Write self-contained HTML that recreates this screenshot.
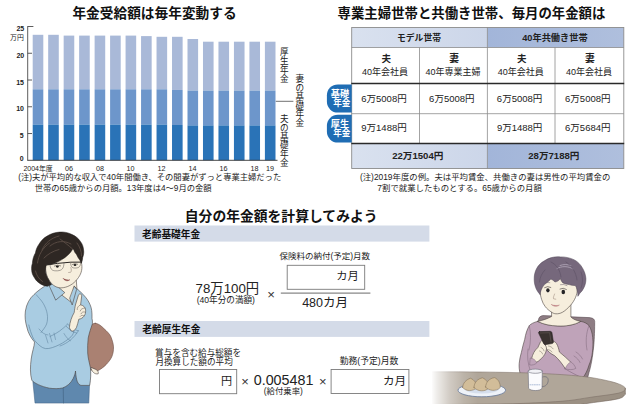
<!DOCTYPE html>
<html lang="ja">
<head>
<meta charset="utf-8">
<title>年金受給額は毎年変動する</title>
<style>
html,body{margin:0;padding:0;background:#fff}
body{width:630px;height:408px;overflow:hidden;position:relative;font-family:"Liberation Sans",sans-serif}
#fig{position:absolute;left:0;top:0;width:630px;height:408px;display:block}
#fig text{font-family:"Liberation Sans","Noto Sans CJK JP",sans-serif}
#txt{position:absolute;left:0;top:0;width:630px;height:408px;overflow:hidden}
#txt span{position:absolute;white-space:nowrap;line-height:1;color:transparent;font-family:"Liberation Sans",sans-serif}
#txt span.v{writing-mode:vertical-rl}
</style>
</head>
<body>
<svg id="fig" width="630" height="408" viewBox="0 0 630 408" aria-hidden="true"><rect x="32.70" y="34.80" width="10.60" height="54.50" fill="#a9b9d8" /><rect x="32.70" y="89.30" width="10.60" height="35.30" fill="#6d96cb" /><rect x="32.70" y="124.60" width="10.60" height="35.70" fill="#2a73b7" /><rect x="48.18" y="34.80" width="10.60" height="54.50" fill="#a9b9d8" /><rect x="48.18" y="89.30" width="10.60" height="35.30" fill="#6d96cb" /><rect x="48.18" y="124.60" width="10.60" height="35.70" fill="#2a73b7" /><rect x="63.66" y="35.60" width="10.60" height="53.70" fill="#a9b9d8" /><rect x="63.66" y="89.30" width="10.60" height="35.30" fill="#6d96cb" /><rect x="63.66" y="124.60" width="10.60" height="35.70" fill="#2a73b7" /><rect x="79.14" y="35.60" width="10.60" height="53.70" fill="#a9b9d8" /><rect x="79.14" y="89.30" width="10.60" height="35.30" fill="#6d96cb" /><rect x="79.14" y="124.60" width="10.60" height="35.70" fill="#2a73b7" /><rect x="94.62" y="35.60" width="10.60" height="53.70" fill="#a9b9d8" /><rect x="94.62" y="89.30" width="10.60" height="35.30" fill="#6d96cb" /><rect x="94.62" y="124.60" width="10.60" height="35.70" fill="#2a73b7" /><rect x="110.10" y="35.60" width="10.60" height="53.70" fill="#a9b9d8" /><rect x="110.10" y="89.30" width="10.60" height="35.30" fill="#6d96cb" /><rect x="110.10" y="124.60" width="10.60" height="35.70" fill="#2a73b7" /><rect x="125.58" y="35.60" width="10.60" height="53.70" fill="#a9b9d8" /><rect x="125.58" y="89.30" width="10.60" height="35.30" fill="#6d96cb" /><rect x="125.58" y="124.60" width="10.60" height="35.70" fill="#2a73b7" /><rect x="141.06" y="36.10" width="10.60" height="53.20" fill="#a9b9d8" /><rect x="141.06" y="89.30" width="10.60" height="35.30" fill="#6d96cb" /><rect x="141.06" y="124.60" width="10.60" height="35.70" fill="#2a73b7" /><rect x="156.54" y="36.80" width="10.60" height="52.50" fill="#a9b9d8" /><rect x="156.54" y="89.30" width="10.60" height="35.30" fill="#6d96cb" /><rect x="156.54" y="124.60" width="10.60" height="35.70" fill="#2a73b7" /><rect x="172.02" y="36.80" width="10.60" height="53.10" fill="#a9b9d8" /><rect x="172.02" y="89.90" width="10.60" height="35.10" fill="#6d96cb" /><rect x="172.02" y="125.00" width="10.60" height="35.30" fill="#2a73b7" /><rect x="187.50" y="39.00" width="10.60" height="51.60" fill="#a9b9d8" /><rect x="187.50" y="90.60" width="10.60" height="34.80" fill="#6d96cb" /><rect x="187.50" y="125.40" width="10.60" height="34.90" fill="#2a73b7" /><rect x="202.98" y="41.70" width="10.60" height="48.90" fill="#a9b9d8" /><rect x="202.98" y="90.60" width="10.60" height="34.80" fill="#6d96cb" /><rect x="202.98" y="125.40" width="10.60" height="34.90" fill="#2a73b7" /><rect x="218.46" y="41.70" width="10.60" height="48.90" fill="#a9b9d8" /><rect x="218.46" y="90.60" width="10.60" height="34.80" fill="#6d96cb" /><rect x="218.46" y="125.40" width="10.60" height="34.90" fill="#2a73b7" /><rect x="233.94" y="41.70" width="10.60" height="48.90" fill="#a9b9d8" /><rect x="233.94" y="90.60" width="10.60" height="34.80" fill="#6d96cb" /><rect x="233.94" y="125.40" width="10.60" height="34.90" fill="#2a73b7" /><rect x="249.42" y="41.70" width="10.60" height="48.90" fill="#a9b9d8" /><rect x="249.42" y="90.60" width="10.60" height="34.80" fill="#6d96cb" /><rect x="249.42" y="125.40" width="10.60" height="34.90" fill="#2a73b7" /><rect x="264.90" y="41.70" width="10.60" height="48.90" fill="#a9b9d8" /><rect x="264.90" y="90.60" width="10.60" height="34.80" fill="#6d96cb" /><rect x="264.90" y="125.40" width="10.60" height="34.90" fill="#2a73b7" /><line x1="27.70" y1="26.20" x2="27.70" y2="160.70" stroke="#333" stroke-width="0.80" /><line x1="27.60" y1="160.30" x2="277.50" y2="160.30" stroke="#333" stroke-width="0.90" /><line x1="27.70" y1="26.50" x2="33.40" y2="26.50" stroke="#333" stroke-width="0.80" /><line x1="27.70" y1="53.26" x2="32.00" y2="53.26" stroke="#333" stroke-width="0.80" /><line x1="27.70" y1="80.02" x2="32.00" y2="80.02" stroke="#333" stroke-width="0.80" /><line x1="27.70" y1="106.78" x2="32.00" y2="106.78" stroke="#333" stroke-width="0.80" /><line x1="27.70" y1="133.54" x2="32.00" y2="133.54" stroke="#333" stroke-width="0.80" />
<text x="16.39" y="31.21" font-size="7" font-weight="bold" fill="#222">25</text>
<text x="16.38" y="57.91" font-size="7" font-weight="bold" fill="#222">20</text>
<text x="16.20" y="84.61" font-size="7" font-weight="bold" fill="#222">15</text>
<text x="16.19" y="111.41" font-size="7" font-weight="bold" fill="#222">10</text>
<text x="19.70" y="138.11" font-size="7" font-weight="bold" fill="#222">5</text>
<text x="19.63" y="160.51" font-size="7" font-weight="bold" fill="#222">0</text>
<text x="10.11" y="39.86" font-size="6.9" fill="#222">万円</text>
<text x="23.45" y="171.21" font-size="7" fill="#222">2004</text>
<text x="38.90" y="170.89" font-size="6.9" fill="#222">年度</text>
<text x="64.98" y="171.21" font-size="7.2" fill="#222">06</text>
<text x="95.94" y="171.21" font-size="7.2" fill="#222">08</text>
<text x="126.61" y="171.21" font-size="7.2" fill="#222">10</text>
<text x="157.57" y="171.30" font-size="7.2" fill="#222">12</text>
<text x="188.54" y="171.30" font-size="7.2" fill="#222">14</text>
<text x="219.49" y="171.21" font-size="7.2" fill="#222">16</text>
<text x="250.45" y="171.21" font-size="7.2" fill="#222">18</text>
<text x="265.93" y="171.21" font-size="7.2" fill="#222">19</text>
<text x="280.10 280.10 280.10 280.10" y="55.38 64.41 73.45 82.49" font-size="8.6" fill="#222">厚生年金</text>
<text x="295.50 295.50 295.50 295.50 295.50 295.50" y="82.42 91.18 99.93 108.68 117.43 126.19" font-size="8.6" fill="#222">妻の基礎年金</text>
<text x="280.10 280.10 280.10 280.10 280.10 280.10" y="122.32 130.98 139.63 148.28 156.93 165.59" font-size="8.6" fill="#222">夫の基礎年金</text>
<line x1="275.80" y1="101.30" x2="293.40" y2="101.30" stroke="#333" stroke-width="0.70" />
<text x="72.39" y="18.05" font-size="13.7" font-weight="bold" fill="#111">年金受給額は毎年変動する</text>
<text x="337.58" y="18.07" font-size="13.4" font-weight="bold" fill="#111">専業主婦世帯と共働き世帯、毎月の年金額は</text>
<text x="18.14" y="180.49" font-size="8.3" fill="#222">(注)夫が平均的な収入で40年間働き、その間妻がずっと専業主婦だった</text>
<text x="34.63" y="191.10" font-size="8.3" fill="#222">世帯の65歳からの月額。13年度は4〜9月の金額</text>
<defs><linearGradient id="h1" x1="0" x2="1"><stop offset="0" stop-color="#d9e1ef"/><stop offset="1" stop-color="#ccd6e9"/></linearGradient><linearGradient id="h2" x1="0" x2="1"><stop offset="0" stop-color="#a2b5d9"/><stop offset="1" stop-color="#afbfdd"/></linearGradient></defs><rect x="351.70" y="27.50" width="135.70" height="20.00" fill="url(#h1)" /><rect x="487.40" y="27.50" width="136.40" height="20.00" fill="url(#h2)" /><rect x="351.70" y="143.50" width="135.70" height="25.00" fill="url(#h1)" /><rect x="487.40" y="143.50" width="136.40" height="25.00" fill="url(#h2)" /><rect x="351.70" y="27.50" width="272.10" height="141.00" fill="none" stroke="#8c8c8c" stroke-width="0.9"/><line x1="351.70" y1="47.50" x2="623.80" y2="47.50" stroke="#8c8c8c" stroke-width="0.80" /><line x1="351.70" y1="113.70" x2="623.80" y2="113.70" stroke="#8c8c8c" stroke-width="0.80" /><line x1="487.40" y1="27.50" x2="487.40" y2="168.50" stroke="#8c8c8c" stroke-width="0.80" /><line x1="419.50" y1="47.50" x2="419.50" y2="143.50" stroke="#8c8c8c" stroke-width="0.80" /><line x1="555.00" y1="47.50" x2="555.00" y2="143.50" stroke="#8c8c8c" stroke-width="0.80" /><line x1="351.30" y1="83.60" x2="624.20" y2="83.60" stroke="#2a2a2a" stroke-width="1.50" /><line x1="351.30" y1="143.50" x2="624.20" y2="143.50" stroke="#2a2a2a" stroke-width="1.50" /><path d="M351.70 84.40 H337.90 A11 11 0 0 0 326.90 95.40 V101.60 A11 11 0 0 0 337.90 112.60 H351.70 Z" fill="#1f6db4"/><path d="M351.70 114.80 H337.90 A11 11 0 0 0 326.90 125.80 V131.60 A11 11 0 0 0 337.90 142.60 H351.70 Z" fill="#1f6db4"/>
<text x="330.79" y="97.05" font-size="9.2" font-weight="bold" fill="#fff">基礎</text>
<text x="333.28" y="106.25" font-size="8.6" font-weight="bold" fill="#fff">年金</text>
<text x="330.80" y="127.25" font-size="9.2" font-weight="bold" fill="#fff">厚生</text>
<text x="333.28" y="136.35" font-size="8.6" font-weight="bold" fill="#fff">年金</text>
<text x="397.02" y="40.68" font-size="8.8" font-weight="bold" fill="#222">モデル世帯</text>
<text x="522.26" y="40.64" font-size="9.2" font-weight="bold" fill="#222">40年共働き世帯</text>
<text x="381.39" y="62.44" font-size="9.5" font-weight="bold" fill="#222">夫</text>
<text x="362.12" y="74.85" font-size="9" fill="#222">40年会社員</text>
<text x="449.13" y="62.45" font-size="9.8" font-weight="bold" fill="#222">妻</text>
<text x="425.47" y="74.85" font-size="9" fill="#222">40年専業主婦</text>
<text x="516.99" y="62.44" font-size="9.5" font-weight="bold" fill="#222">夫</text>
<text x="497.72" y="74.85" font-size="9" fill="#222">40年会社員</text>
<text x="585.08" y="62.45" font-size="9.8" font-weight="bold" fill="#222">妻</text>
<text x="565.92" y="74.85" font-size="9" fill="#222">40年会社員</text>
<text x="361.27" y="101.89" font-size="9.5" fill="#222">6万5008円</text>
<text x="429.12" y="101.89" font-size="9.5" fill="#222">6万5008円</text>
<text x="496.87" y="101.89" font-size="9.5" fill="#222">6万5008円</text>
<text x="565.07" y="101.89" font-size="9.5" fill="#222">6万5008円</text>
<text x="361.31" y="131.19" font-size="9.5" fill="#222">9万1488円</text>
<text x="496.91" y="131.19" font-size="9.5" fill="#222">9万1488円</text>
<text x="565.07" y="131.19" font-size="9.5" fill="#222">6万5684円</text>
<text x="392.19" y="159.36" font-size="9.6" font-weight="bold" fill="#222">22万1504円</text>
<text x="528.24" y="159.36" font-size="9.6" font-weight="bold" fill="#222">28万7188円</text>
<text x="359.95" y="180.47" font-size="8.4" fill="#222">(注)2019年度の例。夫は平均賃金、共働きの妻は男性の平均賃金の</text>
<text x="377.36" y="191.10" font-size="8.4" fill="#222">7割で就業したものとする。65歳からの月額</text>
<text x="184.80" y="220.56" font-size="13.8" font-weight="bold" fill="#111">自分の年金額を計算してみよう</text>
<rect x="134.50" y="225.50" width="294.90" height="16.10" fill="#d4dbe8" /><rect x="134.50" y="321.00" width="294.90" height="15.90" fill="#d4dbe8" />
<text x="142.02" y="237.62" font-size="9.7" font-weight="bold" fill="#111">老齢基礎年金</text>
<text x="142.33" y="332.62" font-size="9.7" font-weight="bold" fill="#111">老齢厚生年金</text>
<text x="279.42" y="259.16" font-size="8.5" fill="#222">保険料の納付(予定)月数</text>
<rect x="287.2" y="265.3" width="77.5" height="24.0" fill="#fff" stroke="#7a7a7a" stroke-width="0.9"/>
<text x="336.16" y="280.47" font-size="11.3" fill="#222">カ月</text>
<line x1="280.80" y1="293.10" x2="370.40" y2="293.10" stroke="#444" stroke-width="0.80" />
<text x="302.17" y="307.40" font-size="12.5" fill="#222">480カ月</text>
<text x="195.57" y="293.29" font-size="13.3" fill="#222">78万100円</text>
<text x="196.71" y="303.33" font-size="8.6" fill="#222">(40年分の満額)</text>
<text x="267.28" y="298.75" font-size="13.2" fill="#333">×</text>
<text x="155.12" y="355.75" font-size="8.6" fill="#222">賞与を含む給与総額を</text>
<text x="155.38" y="365.10" font-size="8.6" fill="#222">月換算した額の平均</text>
<rect x="159.5" y="369.5" width="77.2" height="24.2" fill="#fff" stroke="#7a7a7a" stroke-width="0.9"/>
<text x="221.00" y="384.84" font-size="11.1" fill="#222">円</text>
<text x="241.20" y="386.13" font-size="13" fill="#333">×</text>
<text x="253.74" y="385.46" font-size="14.3" fill="#222">0.005481</text>
<text x="263.78" y="394.14" font-size="8.4" fill="#222">(給付乗率)</text>
<text x="319.10" y="386.13" font-size="13" fill="#333">×</text>
<rect x="331.1" y="369.5" width="77.8" height="24.0" fill="#fff" stroke="#7a7a7a" stroke-width="0.9"/>
<text x="383.03" y="384.85" font-size="11.6" fill="#222">カ月</text>
<text x="339.67" y="363.67" font-size="8.8" fill="#222">勤務(予定)月数</text>
<defs><clipPath id="cut"><rect x="0" y="0" width="630" height="404"/></clipPath><linearGradient id="tfade" x1="0" x2="1"><stop offset="0" stop-color="#fff" stop-opacity="1"/><stop offset="0.12" stop-color="#fff" stop-opacity=".8"/><stop offset="0.4" stop-color="#fff" stop-opacity=".42"/><stop offset="0.7" stop-color="#fff" stop-opacity=".15"/><stop offset="1" stop-color="#fff" stop-opacity="0"/></linearGradient></defs><g clip-path="url(#cut)"><path d="M95.2 323.3C96.9 323.2 98.5 324.3 100.0 325.2C101.5 326.1 102.6 327.4 103.9 328.6C105.2 329.8 106.8 331.2 108.0 332.6C109.2 334.1 110.2 334.9 111.1 337.3C112.0 339.7 113.4 343.7 113.5 346.9C113.6 350.1 113.1 353.6 111.9 356.5C110.7 359.4 108.4 362.1 106.3 364.4C104.2 366.6 101.2 368.9 99.1 370.0C97.0 371.1 95.4 371.6 93.6 370.9C91.8 370.2 89.5 369.5 88.0 366.0C86.5 362.5 84.9 355.2 84.5 350.0C84.1 344.8 84.6 339.0 85.5 335.0C86.4 331.0 88.4 327.9 90.0 326.0C91.6 324.1 93.5 323.4 95.2 323.3Z" fill="#aa8172" stroke="#6b4d44" stroke-width="0.60" stroke-linejoin="round" stroke-linecap="round" /><path d="M90.8 367.6 C91.6 371.6 94.6 374.6 98.2 373.8 C98.8 371.6 97.4 370 95.8 369.4 Z" fill="#f6eedd" stroke="#4b4340" stroke-width="0.60" stroke-linejoin="round" stroke-linecap="round" /><path d="M31.5 368 L35 403.1 L88.8 403.1 L90.2 368 Z" fill="#5f88ae" stroke="#3f5f80" stroke-width="0.50" stroke-linejoin="round" stroke-linecap="round" /><path d="M63.2 386 L63.5 403" fill="none" stroke="#3f5f80" stroke-width="0.60" stroke-linejoin="round" stroke-linecap="round" /><path d="M52 276 L55 290 L70 304 L77 290 L76 276 Z" fill="#f6eedd" stroke="#4b4340" stroke-width="0.60" stroke-linejoin="round" stroke-linecap="round" /><path d="M48.7 283.7 C43 287 37.5 291 34 294.5 C29.5 298.5 26.5 304 25.4 311 C24.6 317 25.4 322 26.8 327 C28 333 31 338 34.5 342 C34.5 346 32 352 31.2 359 C30.2 366 30 374 31.8 380.2 C34 383 41 386.5 49.5 388.2 C54 388.8 58.5 388.8 62.5 388 C67 386.5 71 383 73.2 378.5 C74.6 375.5 75.3 373 75.5 371 C75.8 375.5 76.4 379.5 77.4 381.8 C78.4 384 79.6 385.1 81 385.4 L89.7 385.4 C90.8 379 91 373 90.4 367.6 C89.4 363 88 358 87.7 353 C87.5 348 87.6 343 88.2 338 C89.2 333 91 328 92.4 323.8 C92.6 322 92.4 320 92 318.5 C92.2 312 91.6 308 90 304.5 C88.5 301 86.8 298.5 84.5 296 C81.5 292.5 78 289.5 74.4 286.6 L71.5 302.5 L56.5 291 Z" fill="#a9cce2" stroke="#4b4340" stroke-width="0.60" stroke-linejoin="round" stroke-linecap="round" /><path d="M48.7 283.7 L51.8 281.6 L64.8 292.6 L56 299.9 Z" fill="#a9cce2" stroke="#4b4340" stroke-width="0.60" stroke-linejoin="round" stroke-linecap="round" /><path d="M74.4 286.2 L76.6 289.4 L72.2 305 L69.8 298.5 Z" fill="#a9cce2" stroke="#4b4340" stroke-width="0.60" stroke-linejoin="round" stroke-linecap="round" /><path d="M36.2 294.7C37.4 296.2 41.5 300.3 43.3 303.5C45.1 306.7 46.7 310.4 47.2 313.8C47.8 317.2 47.6 320.9 46.6 324.0C45.6 327.1 41.9 331.1 41.0 332.5" fill="none" stroke="#5a7f9b" stroke-width="0.55" stroke-linejoin="round" stroke-linecap="round" /><path d="M67.6 324 C63 329 57 333.5 50 336.5 M78.3 330.8 C74 338 68 343 60 346" fill="none" stroke="#5a7f9b" stroke-width="0.55" stroke-linejoin="round" stroke-linecap="round" /><path d="M67.6 324 C70.5 327.5 74.5 330 78.3 330.8 M66.2 326.3 C69 329.6 73 332.3 76.8 333.2" fill="none" stroke="#5a7f9b" stroke-width="0.55" stroke-linejoin="round" stroke-linecap="round" /><path d="M28.8 325.0C29.2 326.5 30.4 331.2 31.5 334.0C32.6 336.8 33.4 339.3 35.7 341.7C38.0 344.1 41.6 348.1 45.5 348.6C49.4 349.1 55.0 346.8 59.2 344.8C63.5 342.8 68.5 339.1 71.0 336.8C73.5 334.5 73.5 332.0 74.0 331.0" fill="none" stroke="#5a7f9b" stroke-width="0.60" stroke-linejoin="round" stroke-linecap="round" /><path d="M64 333.5 C66 337 68 339.5 70.5 340.8 M45.5 335 l2.5 8 M49.5 333.5 l2.5 8.5 M54 333 l1.5 6.5 M39 329 c3 3.5 5 5.5 9 6" fill="none" stroke="#5a7f9b" stroke-width="0.50" stroke-linejoin="round" stroke-linecap="round" /><path d="M69.4 327.5 C69.8 322 71.6 317 74.2 312.5 C74.6 309.5 75 307 75.4 305 L78.4 295.2 C79.2 293.2 81.8 293.6 81.7 296 L80.6 304.8 C83.5 305.5 85.8 307.5 85.6 310.2 C85.8 312.5 85.2 314.5 84.2 316 C82.8 318 80.6 319 78.8 319.2 C78 322.5 77.4 325 76.4 327.6 C75 330.5 73 331.6 71.5 331 Z" fill="#f6eedd" stroke="#4b4340" stroke-width="0.60" stroke-linejoin="round" stroke-linecap="round" /><path d="M80.4 305 c-2.2 .8 -3.4 2.6 -3.2 4.6 M84.8 308.2 c-2.2 -.2 -4 .8 -4.6 2.8 M85 312 c-1.8 -.5 -3.4 .2 -4 1.8 M83.6 315.6 c-1.4 -.6 -2.6 -.2 -3.4 .8" fill="none" stroke="#4b4340" stroke-width="0.45" stroke-linejoin="round" stroke-linecap="round" /><path d="M46.6 262.0C44.9 265.3 45.5 267.4 45.7 270.0C45.9 272.6 46.6 275.2 47.6 277.5C48.6 279.8 50.2 282.3 52.0 284.0C53.8 285.7 56.2 287.1 58.5 287.6C60.8 288.1 63.2 287.8 65.5 287.2C67.8 286.6 70.3 285.4 72.5 283.8C74.7 282.2 77.0 279.7 78.5 277.5C80.0 275.3 81.1 273.0 81.6 270.5C82.1 268.0 82.0 265.2 81.4 262.5C80.8 259.8 79.6 256.6 78.0 254.0C76.4 251.4 75.7 247.7 72.0 247.0C68.3 246.3 60.2 247.5 56.0 250.0C51.8 252.5 48.3 258.7 46.6 262.0Z" fill="#f6eedd" stroke="#4b4340" stroke-width="0.60" stroke-linejoin="round" stroke-linecap="round" /><path d="M47.1 286.1 C44.5 285.8 42.3 285 40.5 283.9 C37.5 282 35.5 280 34.6 278 C32.8 275.5 31.8 273 31.7 270.6 C31.4 268 31.6 265.5 32.4 263.3 C32.6 259.5 33.6 256 35.4 253 C36 249.5 37.2 246.7 39 244.2 C41 240.8 43.7 238 47.1 236.1 C50.8 233.7 55 232.4 59.6 232.1 C64 231.7 68.3 232.6 72.1 234.6 C75.8 236.2 78.5 238.5 80.2 241.2 C82.3 243.8 83.4 246.8 83.6 250.1 C84 252.6 83.6 255 82.7 257.4 C82.6 259.6 82 261.6 81.2 263.3 C80.6 261.2 79.5 259.3 78 257.4 C77.2 255.5 76.2 253.8 74.8 252.3 C74.3 250.9 73.7 249.7 72.9 248.6 C71.5 251.3 69.8 253.6 67.7 255.2 C65.8 257 63.9 258.4 61.8 259.6 C59.5 261.2 57 262.4 54.5 263.3 C52.5 264.2 50.5 264.7 48.6 264.8 L46.4 264.8 C45.6 267.2 45.4 269.6 45.6 272.1 C46 274.8 47 277.2 48.6 279.5 C49.4 281.4 50.4 283 51.5 284.6 C50.2 285.5 48.8 286 47.1 286.1 Z" fill="#2e2723" stroke="#1c1816" stroke-width="0.50" stroke-linejoin="round" stroke-linecap="round" /><path d="M42 250 c3 -7 9 -12 17 -14 M37.5 263 c1 -8 5 -15 12 -20 M50 246 c6 -5 14 -6 21 -2 M35.5 271 c1 4.5 3.5 8 7 10.5 M60 239 c5 3.5 9 7 12 9.5 M44 258 c4 -4 9 -7 15 -8.5 M77 243 c3 4 4.5 8.5 4.5 13" fill="none" stroke="#5b4d45" stroke-width="0.90" stroke-linejoin="round" stroke-linecap="round" /><path d="M46.4 264.9 L57.4 263.4 L70.6 262.2 L81.7 262.1" fill="none" stroke="#2a2624" stroke-width="1.00" stroke-linejoin="round" stroke-linecap="round" /><path d="M50 265 C50.5 270.5 53 271 57.5 270.8 C62 270.5 63.8 268.5 64 263.2 M70.6 262.6 C70.8 267.5 72.5 268.2 76 268 C79.5 267.8 80.6 266 80.6 262.3" fill="none" stroke="#57504c" stroke-width="0.50" stroke-linejoin="round" stroke-linecap="round" /><ellipse cx="57.4" cy="266.6" rx="1.5" ry="1.05" fill="#1d1a19"/><ellipse cx="75" cy="264.9" rx="1.4" ry="1.0" fill="#1d1a19"/><path d="M54.4 266 q3 -1.8 6.2 -.2 M72.4 264.4 q2.6 -1.5 5.2 -.2" fill="none" stroke="#2a2624" stroke-width="0.50" stroke-linejoin="round" stroke-linecap="round" /><path d="M70.8 267.5 c.6 2 .9 3.6 -.2 4.8 l-2 .2" fill="none" stroke="#7a6a60" stroke-width="0.45" stroke-linejoin="round" stroke-linecap="round" /><path d="M63.3 278.6 C65 279.6 67.6 280.2 69.9 279.7 C68 281.4 65 281.2 63.3 278.6 Z" fill="#8e3e3c" stroke="#6e2e2e" stroke-width="0.35" stroke-linejoin="round" stroke-linecap="round" /><path d="M538.4 321 C538.3 317.5 540 316 543 315.6 L589 317.6 C593 317.8 595 319.4 594.7 322.5 C594.6 333 594.3 341 593.6 347 C592.6 357 591 366 589 372.5 L587 380 L545 380 Z" fill="#8e7d84" stroke="#5b4c52" stroke-width="0.60" stroke-linejoin="round" stroke-linecap="round" /><path d="M537.6 321.4 C534 322.3 531 323.7 529.3 325.6 C527 329.5 525.6 334 524.7 339.4 C523.4 343.8 522.3 348 521.4 352.3 C520.3 356 519.5 359.6 519.2 363.3 C518.9 367 519.3 370.3 520.1 373.4 L520.6 376 L582.6 378 C585.5 374.5 587.6 370 589 365.1 C590.8 361 591.9 356.8 592.4 352.3 C593 347.5 593.2 342.6 592.7 337.6 C592.3 333 591 328.8 589 325.6 C587 323.4 584.2 322 580.8 321.4 C574 325 566 326.2 557.8 325.8 C550 325.6 543.5 324.2 537.6 321.4 Z" fill="#bfa3b9" stroke="#4b4340" stroke-width="0.60" stroke-linejoin="round" stroke-linecap="round" /><path d="M551.5 305 L551.6 316.5 C547.5 318.8 542.5 320.4 537.6 321.4 C543.5 324.4 550 325.8 557.8 326 C566 326.4 574 325.2 580.8 321.4 C576.5 320.6 573 319.2 570.9 317 L570.9 300 Z" fill="#f6eedd" stroke="#4b4340" stroke-width="0.60" stroke-linejoin="round" stroke-linecap="round" /><path d="M540.4 290.0C539.7 293.4 540.8 296.6 541.6 299.4C542.4 302.2 543.7 304.6 545.3 306.7C546.9 308.8 549.2 310.6 551.0 311.8C552.8 313.0 554.0 313.7 555.9 313.8C557.8 313.9 560.1 313.6 562.6 312.2C565.1 310.8 568.4 307.7 570.6 305.2C572.8 302.7 574.5 299.9 575.6 297.2C576.7 294.5 577.5 292.0 577.2 289.0C576.9 286.0 576.9 281.3 574.0 279.0C571.1 276.7 564.7 275.0 560.0 275.0C555.3 275.0 549.3 276.5 546.0 279.0C542.7 281.5 541.1 286.6 540.4 290.0Z" fill="#f6eedd" stroke="#4b4340" stroke-width="0.60" stroke-linejoin="round" stroke-linecap="round" /><path d="M540 294.4 C538 292.5 536.5 290 535.6 287.3 C534.6 284.5 534.1 281.5 534.2 278.5 C534.2 275 535 271.7 536.5 268.8 C538.2 265.4 540.8 262.8 544.4 260.8 C546.5 259.3 548.9 258.3 551.5 257.6 C554.3 256.9 557.3 256.6 560.3 256.9 C565.3 256.8 570 257.8 574.4 259.9 C577.8 261.8 580.5 264.4 582.4 267.9 C584.4 271.2 585.6 274.7 585.9 278.5 C586 281.6 585.4 284.5 584.1 287.3 C583 289.8 581.6 291.8 579.7 293.5 L577.9 296.3 C578 294 577.7 292 577.1 289.9 C576.8 288.2 576.2 286.8 575.3 285.5 C573.3 285.6 571.2 285.3 569.1 284.6 C566.8 284.3 564.7 283.7 562.9 282.9 C561.6 281.6 560.8 280.1 560.3 278.5 C559.2 280.4 557.4 281.6 555 282 C553.4 280.4 552 279.6 550.8 279 C549.8 280.4 548 281.8 544.4 284.6 C543 286.2 541.9 288 541.2 289.9 C540.6 291.4 540.2 292.9 540 294.4 Z" fill="#76687c" stroke="#4d4252" stroke-width="0.50" stroke-linejoin="round" stroke-linecap="round" /><path d="M557 268.5 c5 -2.6 11 -2.6 16 .4 M560 265.5 c4 -1.5 8 -1.2 11 .2" fill="none" stroke="#a79cae" stroke-width="1.00" stroke-linejoin="round" stroke-linecap="round" /><path d="M545 270 c-3 3 -5 7 -5.5 12 M551 262 c6 3 9 8 10 15 M566 262 c6 4 10 10 11 18 M581 272 c2 5 2 11 0 16" fill="none" stroke="#5d5064" stroke-width="0.60" stroke-linejoin="round" stroke-linecap="round" /><ellipse cx="547.9" cy="290.3" rx="1.7" ry="2.1" fill="#252426"/><ellipse cx="563.3" cy="292" rx="1.8" ry="2.2" fill="#252426"/><path d="M544.6 287.6 q3 -2 6.2 -.2 M560 289 q3.2 -1.8 6.4 .4" fill="none" stroke="#3a3434" stroke-width="0.60" stroke-linejoin="round" stroke-linecap="round" /><path d="M543.8 283.4 q3 -1.6 6 -.8 M560.5 284.6 q3.5 -.8 6.5 1" fill="none" stroke="#6b5e70" stroke-width="0.50" stroke-linejoin="round" stroke-linecap="round" /><path d="M554.6 294 c-.8 2.3 -1.6 3.6 -1 4.8 l2.2 .4" fill="none" stroke="#8a7468" stroke-width="0.45" stroke-linejoin="round" stroke-linecap="round" /><path d="M551.5 304.6 C553.5 305.6 557 305.9 559.4 305 C557.5 306.9 553.5 306.8 551.5 304.6 Z" fill="#c9878c" stroke="#a8656c" stroke-width="0.35" stroke-linejoin="round" stroke-linecap="round" /><path d="M582.6 378 C577 375.5 571 372.5 565.1 368.8" fill="none" stroke="#7d6678" stroke-width="0.60" stroke-linejoin="round" stroke-linecap="round" /><path d="M529.3 325.6 C531 333 531 342 529 350 M589 325.6 C586 333 585.5 342 587 350" fill="none" stroke="#7d6678" stroke-width="0.50" stroke-linejoin="round" stroke-linecap="round" /><path d="M528 349 C527 356 527.8 364 530.4 371 M576 352 c3 2 5 4 6.5 7 M574 356 c3 2 5 4 6 6.5" fill="none" stroke="#7d6678" stroke-width="0.50" stroke-linejoin="round" stroke-linecap="round" /><path d="M565.2 368.6 C562 363.5 558.5 359 554.5 355.6 C551 354 547.6 351.5 545.6 347.6 C545 344.5 546 342 548 341.4 C551.5 340 554.5 341 556.4 343.4 C558 346 558.8 349 559.4 352 C563 355 567.2 358.5 570.8 362.2 Z" fill="#f6eedd" stroke="#4b4340" stroke-width="0.60" stroke-linejoin="round" stroke-linecap="round" /><path d="M548.5 346 c2 .2 3.6 1.2 4.6 2.8 M547.6 349.6 c2 .2 3.4 1 4.4 2.4" fill="none" stroke="#4b4340" stroke-width="0.40" stroke-linejoin="round" stroke-linecap="round" /><path d="M531.6 358.6 C532.6 354 534.6 350.4 537.8 347.6 L540.6 341.6 C541.6 340 543.4 340.4 543.4 342.4 L544.4 344.4 C546 345.6 546.8 347.5 546.4 349.5 C546 353 544 356.2 541.2 358.6 C539.5 360.6 537.6 362 535.5 362.6 Z" fill="#f6eedd" stroke="#4b4340" stroke-width="0.60" stroke-linejoin="round" stroke-linecap="round" /><path d="M541 347.5 c1.6 .6 2.6 1.8 3 3.4 M539.6 351 c1.6 .6 2.6 1.6 3 3" fill="none" stroke="#4b4340" stroke-width="0.40" stroke-linejoin="round" stroke-linecap="round" /><path d="M565.1 368.8 C566.5 365.5 568.6 363 570.8 361.8 C573 363.2 574.8 365.5 575.8 368.4 C573 370 569 370 565.1 368.8 Z" fill="#bfa3b9" stroke="#7d6678" stroke-width="0.50" stroke-linejoin="round" stroke-linecap="round" /><path d="M530.6 358 C533 358.2 535.6 360 536.8 362.8 C535 364.6 532.6 365.4 530 365 Z" fill="#bfa3b9" stroke="#7d6678" stroke-width="0.50" stroke-linejoin="round" stroke-linecap="round" /><path d="M539.4 331.6 L550 331.3 C551.2 331.3 551.9 332 552 333 L553.4 341.8 C553.5 342.8 553 343.4 552 343.6 L546 344.6 C544.8 344.8 544 344.3 543.5 343.2 L538.8 333.6 C538.3 332.5 538.5 331.8 539.4 331.6 Z" fill="#3a3230" stroke="#1f1b1a" stroke-width="0.50" stroke-linejoin="round" stroke-linecap="round" /><path d="M540.3 333 L549.6 332.7 L551 341.5" fill="none" stroke="#6d625e" stroke-width="0.50" stroke-linejoin="round" stroke-linecap="round" /><defs><clipPath id="tclip"><rect x="432" y="360" width="200" height="44"/></clipPath></defs><g clip-path="url(#tclip)"><path d="M625.3 394.0C624.2 394.8 624.5 397.2 618.6 398.7C612.7 400.2 598.3 401.8 590.0 403.0C581.7 404.2 576.9 405.3 568.6 406.2C560.3 407.1 551.4 407.6 540.0 408.2C528.6 408.8 519.2 409.3 500.0 409.6C480.8 409.9 445.0 410.0 425.0 410.1C405.0 410.2 387.5 410.1 380.0 410.1 L380 395 L625.3 388.4 Z" fill="#9b9083" stroke="none" stroke-width="0.00" stroke-linejoin="round" stroke-linecap="round" /><path d="M625.3 394.0C624.2 394.8 624.5 397.2 618.6 398.7C612.7 400.2 598.3 401.8 590.0 403.0C581.7 404.2 576.9 405.3 568.6 406.2C560.3 407.1 551.4 407.6 540.0 408.2C528.6 408.8 519.2 409.3 500.0 409.6C480.8 409.9 445.0 410.0 425.0 410.1C405.0 410.2 387.5 410.1 380.0 410.1" fill="none" stroke="#6e6258" stroke-width="0.60" stroke-linejoin="round" stroke-linecap="round" /><path d="M380.0 371.8C387.5 371.8 410.0 371.8 425.0 371.8C440.0 371.8 454.2 371.8 470.0 371.9C485.8 372.0 505.0 372.3 520.0 372.7C535.0 373.1 548.8 373.8 560.0 374.5C571.2 375.2 579.7 376.1 587.0 377.0C594.3 377.9 598.7 378.9 604.0 380.0C609.3 381.1 615.1 382.5 618.6 383.9C622.1 385.3 625.3 386.9 625.3 388.4C625.3 389.9 624.5 391.6 618.6 393.1C612.7 394.6 598.3 396.1 590.0 397.4C581.7 398.6 576.9 399.7 568.6 400.6C560.3 401.5 551.4 402.0 540.0 402.6C528.6 403.2 519.2 403.7 500.0 404.0C480.8 404.3 445.0 404.4 425.0 404.5C405.0 404.6 387.5 404.5 380.0 404.5 Z" fill="#b0a699" stroke="#7a6e64" stroke-width="0.55" stroke-linejoin="round" stroke-linecap="round" /><path d="M625.3 388.4 L625.3 394" fill="none" stroke="#6e6258" stroke-width="0.60" stroke-linejoin="round" stroke-linecap="round" /><rect x="431" y="365" width="47" height="45" fill="url(#tfade)"/></g><ellipse cx="481.8" cy="390.2" rx="23.8" ry="6.6" fill="#eef2f8" stroke="#6f809e" stroke-width="0.9"/><ellipse cx="481.8" cy="389.2" rx="17" ry="4.2" fill="#d5deec" stroke="none"/><path d="M462.6 387.5 C462.8 383 466 379.8 470.5 378.2 C474 379.5 476.6 383 477 387.6 C473 391.6 466 391.6 462.6 387.5 Z" fill="#d2bd99" stroke="#7d6a50" stroke-width="0.50" stroke-linejoin="round" stroke-linecap="round" /><path d="M474 387.5 C474 382.5 477.6 378.8 482.6 377.8 C486.4 379.4 488.8 383 489 388 C485 392 477.6 391.8 474 387.5 Z" fill="#d2bd99" stroke="#7d6a50" stroke-width="0.50" stroke-linejoin="round" stroke-linecap="round" /><path d="M485.6 387 C485.8 382 489.4 378.4 494.6 377.6 C498.4 379.4 500.4 383 500.2 387.6 C496.4 391.6 489 391.2 485.6 387 Z" fill="#d2bd99" stroke="#7d6a50" stroke-width="0.50" stroke-linejoin="round" stroke-linecap="round" /><path d="M542.5 377 C546.5 375.5 549 378 548 382 C547.3 385 544.5 387 542.3 386.5" fill="none" stroke="#6c6c78" stroke-width="0.70" stroke-linejoin="round" stroke-linecap="round" /><path d="M528.2 371.2 L528.6 388.3 C530.5 391.3 540.3 391.3 542 388.3 L542.3 371.2 Z" fill="#fbfbfd" stroke="#6c6c78" stroke-width="0.60" stroke-linejoin="round" stroke-linecap="round" /><ellipse cx="535.25" cy="371.2" rx="7.05" ry="2.1" fill="#f2f2f6" stroke="#6c6c78" stroke-width="0.6"/><path d="M530 384.8 h10.5" fill="none" stroke="#8ea4c8" stroke-width="0.70" stroke-linejoin="round" stroke-linecap="round" stroke-dasharray="1 1.2"/></g></svg>
<div id="txt">
<span style="left:16.6px;top:23.8px;font-size:7.0px">25</span>
<span style="left:16.6px;top:50.5px;font-size:7.0px">20</span>
<span style="left:16.6px;top:77.2px;font-size:7.0px">15</span>
<span style="left:16.6px;top:104.0px;font-size:7.0px">10</span>
<span style="left:19.9px;top:130.7px;font-size:7.0px">5</span>
<span style="left:19.9px;top:153.2px;font-size:6.9px">0</span>
<span style="left:10.3px;top:33.0px;font-size:7.0px">万円</span>
<span style="left:23.8px;top:163.9px;font-size:6.9px">2004</span>
<span style="left:39.2px;top:163.9px;font-size:7.1px">年度</span>
<span style="left:65.3px;top:163.9px;font-size:6.9px">06</span>
<span style="left:96.2px;top:163.9px;font-size:6.9px">08</span>
<span style="left:127.2px;top:163.9px;font-size:6.9px">10</span>
<span style="left:158.1px;top:163.9px;font-size:6.9px">12</span>
<span style="left:189.1px;top:163.9px;font-size:6.9px">14</span>
<span style="left:220.1px;top:163.9px;font-size:6.9px">16</span>
<span style="left:251.0px;top:163.9px;font-size:6.9px">18</span>
<span style="left:266.5px;top:163.9px;font-size:6.9px">19</span>
<span class="v" style="left:280.0px;top:48.0px;font-size:8.6px">厚生年金</span>
<span class="v" style="left:295.5px;top:75.0px;font-size:8.6px">妻の基礎年金</span>
<span class="v" style="left:280.0px;top:115.0px;font-size:8.6px">夫の基礎年金</span>
<span style="left:72.9px;top:6.0px;font-size:13.3px">年金受給額は毎年変動する</span>
<span style="left:338.2px;top:5.9px;font-size:13.4px">専業主婦世帯と共働き世帯、毎月の年金額は</span>
<span style="left:18.8px;top:173.5px;font-size:8.3px">(注)夫が平均的な収入で40年間働き、その間妻がずっと専業主婦だった</span>
<span style="left:35.0px;top:183.1px;font-size:8.3px">世帯の65歳からの月額。13年度は4〜9月の金額</span>
<span style="left:331.0px;top:89.0px;font-size:8.4px">基礎</span>
<span style="left:333.6px;top:98.1px;font-size:8.5px">年金</span>
<span style="left:331.0px;top:119.2px;font-size:8.4px">厚生</span>
<span style="left:333.6px;top:128.2px;font-size:8.5px">年金</span>
<span style="left:397.9px;top:32.7px;font-size:8.3px">モデル世帯</span>
<span style="left:522.4px;top:32.7px;font-size:8.3px">40年共働き世帯</span>
<span style="left:381.7px;top:54.4px;font-size:8.4px">夫</span>
<span style="left:362.4px;top:67.2px;font-size:7.9px">40年会社員</span>
<span style="left:449.6px;top:54.4px;font-size:8.4px">妻</span>
<span style="left:425.7px;top:67.2px;font-size:7.9px">40年専業主婦</span>
<span style="left:517.3px;top:54.4px;font-size:8.4px">夫</span>
<span style="left:498.0px;top:67.2px;font-size:7.9px">40年会社員</span>
<span style="left:585.5px;top:54.4px;font-size:8.4px">妻</span>
<span style="left:566.1px;top:67.2px;font-size:7.9px">40年会社員</span>
<span style="left:361.8px;top:94.2px;font-size:8.0px">6万5008円</span>
<span style="left:429.6px;top:94.2px;font-size:8.0px">6万5008円</span>
<span style="left:497.4px;top:94.2px;font-size:8.0px">6万5008円</span>
<span style="left:565.6px;top:94.2px;font-size:8.0px">6万5008円</span>
<span style="left:361.8px;top:123.5px;font-size:8.0px">9万1488円</span>
<span style="left:497.4px;top:123.5px;font-size:8.0px">9万1488円</span>
<span style="left:565.6px;top:123.5px;font-size:8.0px">6万5684円</span>
<span style="left:392.5px;top:151.8px;font-size:7.9px">22万1504円</span>
<span style="left:528.6px;top:151.8px;font-size:7.9px">28万7188円</span>
<span style="left:360.6px;top:173.4px;font-size:8.4px">(注)2019年度の例。夫は平均賃金、共働きの妻は男性の平均賃金の</span>
<span style="left:377.9px;top:183.0px;font-size:8.4px">7割で就業したものとする。65歳からの月額</span>
<span style="left:186.8px;top:208.5px;font-size:13.3px">自分の年金額を計算してみよう</span>
<span style="left:142.2px;top:229.3px;font-size:8.7px">老齢基礎年金</span>
<span style="left:142.5px;top:324.2px;font-size:8.9px">老齢厚生年金</span>
<span style="left:279.6px;top:252.3px;font-size:7.9px">保険料の納付(予定)月数</span>
<span style="left:337.4px;top:271.4px;font-size:9.6px">カ月</span>
<span style="left:302.5px;top:297.3px;font-size:10.8px">480カ月</span>
<span style="left:196.3px;top:282.8px;font-size:11.3px">78万100円</span>
<span style="left:197.3px;top:296.5px;font-size:8.0px">(40年分の満額)</span>
<span style="left:268.2px;top:290.4px;font-size:6.4px">×</span>
<span style="left:155.6px;top:347.7px;font-size:8.4px">賞与を含む給与総額を</span>
<span style="left:155.6px;top:357.3px;font-size:8.1px">月換算した額の平均</span>
<span style="left:222.0px;top:375.6px;font-size:9.8px">円</span>
<span style="left:242.1px;top:377.9px;font-size:6.3px">×</span>
<span style="left:254.3px;top:374.6px;font-size:10.8px">0.005481</span>
<span style="left:264.3px;top:387.2px;font-size:8.0px">(給付乗率)</span>
<span style="left:320.0px;top:377.9px;font-size:6.3px">×</span>
<span style="left:384.3px;top:375.6px;font-size:9.8px">カ月</span>
<span style="left:340.0px;top:356.4px;font-size:8.4px">勤務(予定)月数</span>
</div>
</body>
</html>
